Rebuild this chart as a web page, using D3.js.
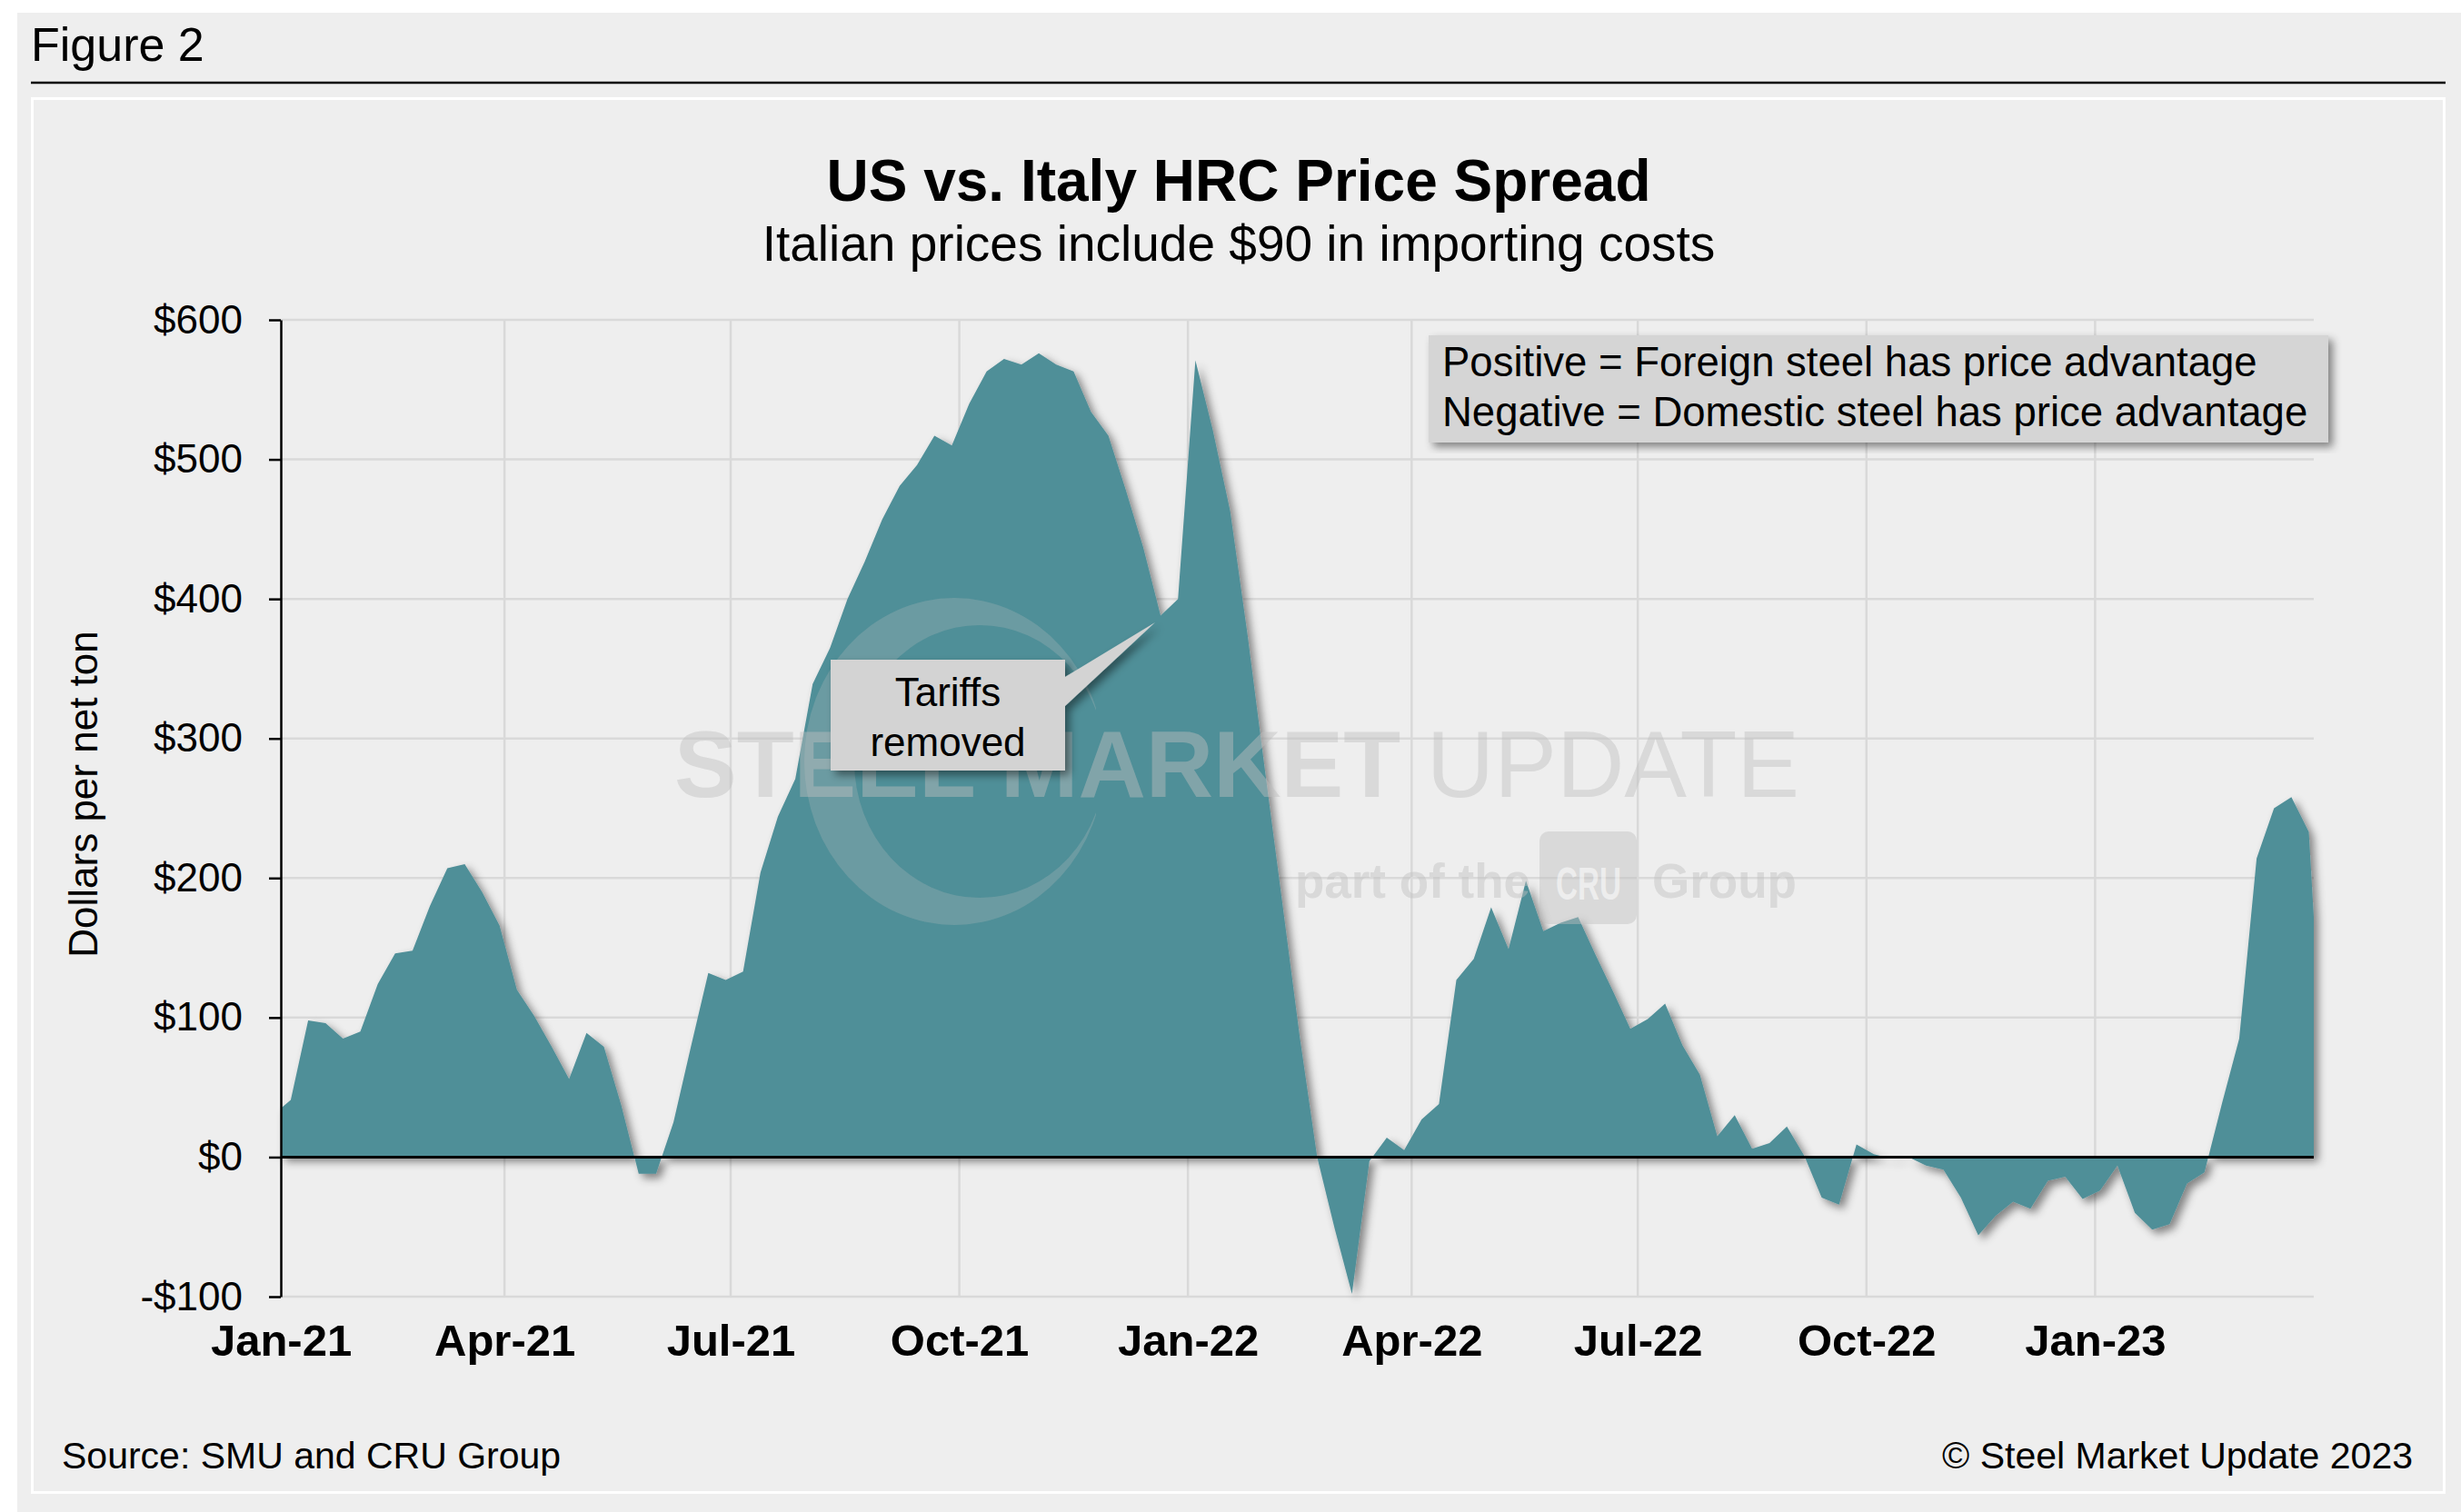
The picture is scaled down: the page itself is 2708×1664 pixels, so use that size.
<!DOCTYPE html>
<html>
<head>
<meta charset="utf-8">
<script src="https://cdn.jsdelivr.net/npm/d3@7"></script>
<style>
  body { margin: 0; background: #ffffff; }
  svg { display: block; font-family: "Liberation Sans", Arial, sans-serif; }
</style>
</head>
<body>
<script>
// weekly US minus Italy (landed) HRC spread, $/net ton
const firstReading = "2021-01-01";
const weeklyFrom = "2021-01-05";
const weeklyUntil = "2023-03-29";
const lastReading = "2023-03-30";

const spread = [
  35, 41, 98, 96, 85, 90, 124, 146, 148, 180,
  207, 210, 190, 166, 120, 101, 79, 56, 89, 79,
  37, -12, -12, 25, 79, 132, 127, 133, 204, 244,
  271, 339, 365, 400, 427, 457, 481, 496, 517, 510,
  540, 563, 572, 568, 576, 568, 563, 534, 517, 478,
  437, 388, 400, 571, 521, 463, 374, 277, 182, 86,
  0, -51, -98, -3, 14, 5, 27, 38, 127, 142,
  179, 149, 198, 162, 168, 172, 145, 119, 92, 99,
  110, 80, 59, 15, 30, 6, 10, 22, 1, -29,
  -34, 9, 2, -1, 0, -6, -9, -29, -56, -42,
  -32, -37, -17, -14, -30, -24, -6, -40, -52, -48,
  -19, -11, 38, 85, 214, 250, 258, 233, 172
];

const yTicks = [-100, 0, 100, 200, 300, 400, 500, 600];
const legendLines = [
  "Positive = Foreign steel has price advantage",
  "Negative = Domestic steel has price advantage"
];
const calloutLines = ["Tariffs", "removed"];

const width = 2708;
const height = 1664;
const plot = { left: 309, right: 2546, top: 352, bottom: 1427 };
const teal = "#508f98";
const font = '"Liberation Sans", Arial, sans-serif';

const parseDay = d3.timeParse("%Y-%m-%d");
const dates = [parseDay(firstReading)]
  .concat(d3.timeTuesday.range(parseDay(weeklyFrom), parseDay(weeklyUntil)))
  .concat([parseDay(lastReading)]);
const data = spread.map((v, i) => ({ date: dates[i], value: v }));

const x = d3.scaleTime()
  .domain([parseDay(firstReading), parseDay(lastReading)])
  .range([plot.left, plot.right]);
const y = d3.scaleLinear().domain([-100, 600]).range([plot.bottom, plot.top]);
const xTicks = d3.timeMonth.every(3).range(parseDay(firstReading), parseDay("2023-02-01"));

const svg = d3.select("body").append("svg")
  .attr("width", width)
  .attr("height", height)
  .attr("viewBox", `0 0 ${width} ${height}`);

const defs = svg.append("defs");
defs.append("filter").attr("id", "shadow")
  .attr("x", "-5%").attr("y", "-5%").attr("width", "115%").attr("height", "115%")
  .append("feDropShadow")
  .attr("dx", 5).attr("dy", 5).attr("stdDeviation", 5)
  .attr("flood-color", "#000").attr("flood-opacity", 0.45);
defs.append("clipPath").attr("id", "swooshClip")
  .append("rect").attr("x", 0).attr("y", 0).attr("width", 1206).attr("height", height);

// backgrounds
svg.append("rect").attr("width", width).attr("height", height).attr("fill", "#ffffff");
svg.append("rect").attr("x", 19).attr("y", 14).attr("width", width - 19).attr("height", height - 14)
  .attr("fill", "#eeeeee");

svg.append("text").attr("x", 34).attr("y", 67)
  .attr("font-size", 52).attr("fill", "#000").text("Figure 2");
svg.append("line").attr("x1", 34).attr("x2", 2691).attr("y1", 91).attr("y2", 91)
  .attr("stroke", "#000").attr("stroke-width", 2.5);

svg.append("rect").attr("x", 35.5).attr("y", 108.5).attr("width", 2654).attr("height", 1534)
  .attr("fill", "#eeeeee").attr("stroke", "#ffffff").attr("stroke-width", 3);

svg.append("text").attr("x", 1363).attr("y", 221).attr("text-anchor", "middle")
  .attr("font-size", 64).attr("font-weight", "bold").text("US vs. Italy HRC Price Spread");
svg.append("text").attr("x", 1363).attr("y", 287).attr("text-anchor", "middle")
  .attr("font-size", 55).text("Italian prices include $90 in importing costs");

// gridlines
const grid = svg.append("g");
grid.selectAll("line.h").data(yTicks).join("line")
  .attr("class", "h")
  .attr("x1", plot.left).attr("x2", plot.right)
  .attr("y1", (d) => y(d)).attr("y2", (d) => y(d))
  .attr("stroke", "#d9d9d9").attr("stroke-width", 2.5);
grid.selectAll("line.v").data(xTicks.slice(1)).join("line")
  .attr("class", "v")
  .attr("x1", (d) => x(d)).attr("x2", (d) => x(d))
  .attr("y1", plot.top).attr("y2", plot.bottom)
  .attr("stroke", "#d9d9d9").attr("stroke-width", 2.5);

// spread area
const area = d3.area()
  .x((d) => x(d.date))
  .y0(y(0))
  .y1((d) => y(d.value));
svg.append("path").datum(data)
  .attr("d", area)
  .attr("fill", teal)
  .attr("filter", "url(#shadow)");

// watermark
const wm = svg.append("g").attr("fill", "#bebebe").attr("fill-opacity", 0.45);
const ring = (cx, cy, rx, ry) =>
  `M${cx - rx},${cy}a${rx},${ry} 0 1,0 ${2 * rx},0a${rx},${ry} 0 1,0 ${-2 * rx},0Z`;
wm.append("path")
  .attr("d", ring(1050, 838, 165, 180) + ring(1078, 838, 138, 150))
  .attr("fill-rule", "evenodd")
  .attr("fill-opacity", 0.25)
  .attr("clip-path", "url(#swooshClip)");
const wmText = wm.append("text").attr("x", 1361).attr("y", 877)
  .attr("text-anchor", "middle").attr("font-size", 103);
wmText.append("tspan").attr("font-weight", "bold").text("STEEL MARKET ");
wmText.append("tspan").text("UPDATE");
wm.append("text").attr("x", 1684).attr("y", 988).attr("text-anchor", "end")
  .attr("font-size", 53).attr("font-weight", "bold").text("part of the");
wm.append("rect").attr("x", 1694).attr("y", 915).attr("width", 107).attr("height", 102).attr("rx", 10);
wm.append("text").attr("x", 1818).attr("y", 988)
  .attr("font-size", 53).attr("font-weight", "bold").text("Group");
svg.append("text").attr("x", 1748).attr("y", 990).attr("text-anchor", "middle")
  .attr("font-size", 50).attr("font-weight", "bold")
  .attr("textLength", 72).attr("lengthAdjust", "spacingAndGlyphs")
  .attr("fill", "#ffffff").attr("fill-opacity", 0.55).text("CRU");

// zero line
svg.append("line")
  .attr("x1", plot.left).attr("x2", plot.right)
  .attr("y1", y(0)).attr("y2", y(0))
  .attr("stroke", "#000").attr("stroke-width", 3);

// y axis
const yAxis = svg.append("g")
  .attr("transform", `translate(${plot.left},0)`)
  .call(d3.axisLeft(y).tickValues(yTicks).tickSize(13).tickSizeOuter(0).tickPadding(29)
    .tickFormat((d) => (d < 0 ? "-$" : "$") + Math.abs(d)));
yAxis.select(".domain").attr("stroke", "#000").attr("stroke-width", 2.5);
yAxis.selectAll(".tick line").attr("stroke", "#000").attr("stroke-width", 2.5);
yAxis.selectAll("text").attr("font-family", font).attr("font-size", 44).attr("fill", "#000");

// x axis labels
const xAxis = svg.append("g")
  .attr("transform", `translate(0,${plot.bottom})`)
  .call(d3.axisBottom(x).tickValues(xTicks).tickSize(0).tickFormat(d3.timeFormat("%b-%y")));
xAxis.select(".domain").remove();
xAxis.selectAll("text")
  .attr("y", 65).attr("dy", null)
  .attr("font-family", font).attr("font-size", 49).attr("font-weight", "bold").attr("fill", "#000");

svg.append("text")
  .attr("transform", "translate(107,874) rotate(-90)")
  .attr("text-anchor", "middle").attr("font-size", 44).text("Dollars per net ton");

// legend note
svg.append("rect").attr("x", 1572).attr("y", 369).attr("width", 990).attr("height", 118)
  .attr("fill", "#d5d5d5").attr("filter", "url(#shadow)");
svg.selectAll("text.legend").data(legendLines).join("text")
  .attr("class", "legend")
  .attr("x", 1587).attr("y", (d, i) => 414 + i * 55)
  .attr("font-size", 45.5).text((d) => d);

// callout
svg.append("path")
  .attr("d", "M914,726H1172V745L1271,685L1172,777V848H914Z")
  .attr("fill", "#d3d3d3").attr("filter", "url(#shadow)");
svg.selectAll("text.callout").data(calloutLines).join("text")
  .attr("class", "callout")
  .attr("x", 1043).attr("y", (d, i) => 777 + i * 55)
  .attr("text-anchor", "middle").attr("font-size", 44).text((d) => d);

// footer
svg.append("text").attr("x", 68).attr("y", 1616)
  .attr("font-size", 41).text("Source: SMU and CRU Group");
svg.append("text").attr("x", 2655).attr("y", 1616).attr("text-anchor", "end")
  .attr("font-size", 41).text("\u00A9 Steel Market Update 2023");
</script>
</body>
</html>
